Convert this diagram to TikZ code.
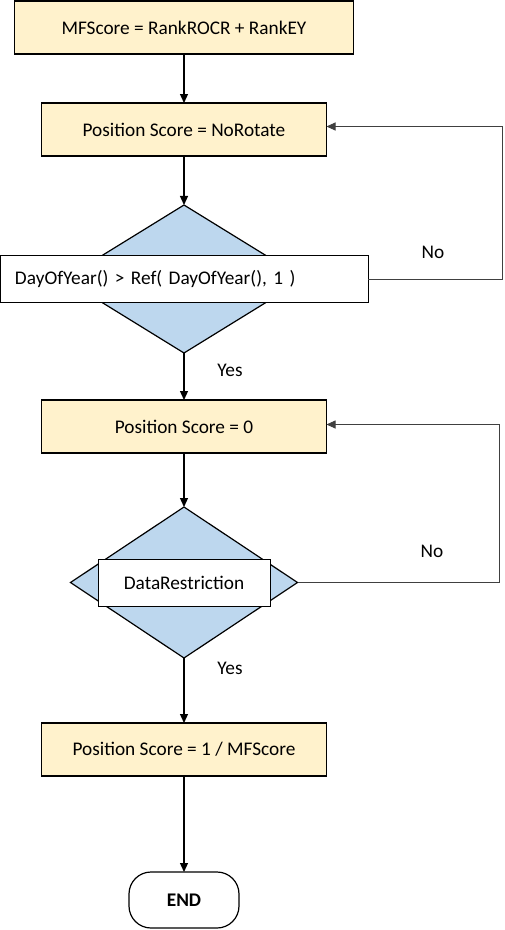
\documentclass[tikz,border=0pt]{standalone}
\usepackage{fontspec}
\setmainfont{Carlito}
\usepackage{xcolor}
\usetikzlibrary{shapes.geometric, arrows.meta, positioning}

\definecolor{procfill}{HTML}{FFF2CC}
\definecolor{decfill}{HTML}{BDD7EE}

\begin{document}
\begin{tikzpicture}[
    x=1pt, y=-1pt,
    node distance=49pt,
    every node/.style={font=\fontsize{19.3}{23}\selectfont, outer sep=0pt},
    process/.style={rectangle, draw, line width=1.2pt, fill=procfill, minimum width=285pt, minimum height=53pt, inner sep=0pt, align=center},
    decision/.style={diamond, draw, line width=1.2pt, fill=decfill, inner sep=0pt},
    condbox/.style={rectangle, draw, line width=0.8pt, fill=white, minimum height=47pt, inner sep=0pt},
    terminal/.style={rectangle, rounded corners=22pt, draw, line width=1.2pt, minimum width=110pt, minimum height=56pt, font=\fontsize{19.3}{23}\selectfont\bfseries},
    flow/.style={-{Triangle[length=9pt,width=8pt]}, line width=1.2pt},
    back/.style={-{Triangle[length=9pt,width=8pt]}, line width=0.9pt, draw=black!75}
]
\useasboundingbox (0,0) rectangle (504,930);

\node[process, minimum width=339pt] (mfscore) at (184,27.5) {MFScore = RankROCR + RankEY};
\node[process, below=49pt of mfscore] (norotate) {Position Score = NoRotate};
\node[decision, minimum width=240pt, minimum height=148pt, below=49pt of norotate] (dcheck1) {};
\node[condbox, minimum width=368pt, text width=338pt, inner xsep=15pt, align=left] (cond1) at (dcheck1) {DayOfYear() > Ref( DayOfYear(), 1 )};
\node[process, below=47pt of dcheck1] (zero) {Position Score = 0};
\node[decision, minimum width=227pt, minimum height=151pt, below=54pt of zero] (dcheck2) {};
\node[condbox, minimum width=172pt] (cond2) at (dcheck2) {DataRestriction};
\node[process, below=65pt of dcheck2] (final) {Position Score = 1 / MFScore};
\node[terminal, below=96pt of final] (theend) {END};

% labels
\node (no1) at (433,252) {No};
\node (yes1) at (230,370) {Yes};
\node (no2) at (432,551) {No};
\node (yes2) at (230,668) {Yes};

% main flow
\draw[flow] (mfscore) -- (norotate);
\draw[flow] (norotate) -- (dcheck1);
\draw[flow] (dcheck1) -- (zero);
\draw[flow] (zero) -- (dcheck2);
\draw[flow] (dcheck2) -- (final);
\draw[flow] (final) -- (theend);

% loops back
\draw[back] (cond1.east) -- ++(134,0) |- ([yshift=3pt]norotate.east);
\draw[back] (dcheck2.east) -- ++(202,0) |- ([yshift=2pt]zero.east);

\end{tikzpicture}
\end{document}
